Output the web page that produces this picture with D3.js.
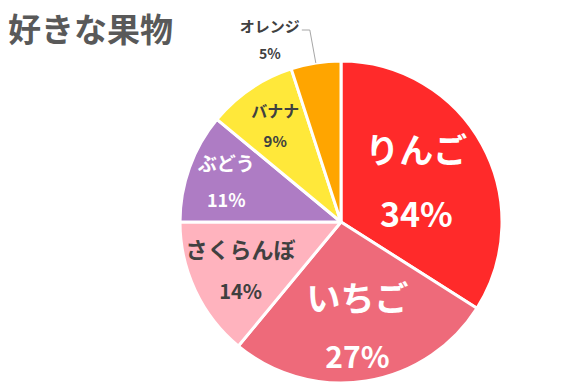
<!DOCTYPE html>
<html><head><meta charset="utf-8">
<script src="https://cdn.jsdelivr.net/npm/d3@7"></script>
<style>body{margin:0;background:#fff}svg{display:block}</style>
</head><body>
<script>
const categories = ["りんご","いちご","さくらんぼ","ぶどう","バナナ","オレンジ"];
const values = [34,27,14,11,9,5];
const colors = ["#FF2A2A","#EE6A7A","#FFB3BE","#AE7CC4","#FFE83A","#FFA500"];

// label styling (layout only)
const labelStyle = [
  {r:86,  nameSize:34, pctSize:34, fill:"#fff", gap:64},
  {r:105, nameSize:34, pctSize:30, fill:"#fff", gap:58},
  {r:111, nameSize:22, pctSize:20, fill:"#404040", gap:42},
  {r:122, nameSize:19, pctSize:18, fill:"#fff", gap:37},
  {r:117, nameSize:16, pctSize:15, fill:"#404040", gap:30},
  {outside:true, nameSize:15, pctSize:14, fill:"#404040", gap:27}
];

const W=570,H=391, cx=341, cy=222, R=161;
const svg = d3.select("body").append("svg").attr("width",W).attr("height",H)
  .style("font-family","'Noto Sans CJK JP','Noto Sans',sans-serif");

svg.append("text").attr("x",8).attr("y",28).attr("dominant-baseline","central")
  .attr("font-size",33).attr("font-weight","bold").attr("fill","#595959").text("好きな果物");

const pie = d3.pie().sort(null).value(d=>d);
const arcs = pie(values);
const arc = d3.arc().innerRadius(0).outerRadius(R);
const g = svg.append("g").attr("transform",`translate(${cx},${cy})`);

g.selectAll("path").data(arcs).join("path")
  .attr("d",arc).attr("fill",(d,i)=>colors[i])
  .attr("stroke","#fff").attr("stroke-width",3).attr("stroke-linejoin","round");

arcs.forEach((a,i)=>{
  const s = labelStyle[i];
  const mid = (a.startAngle+a.endAngle)/2;
  let x, y;
  if (s.outside) {
    const p0 = [R*Math.sin(mid), -R*Math.cos(mid)];
    const p1 = [p0[0]-6, -192];
    const p2 = [p1[0]-8, -192];
    g.append("polyline").attr("points",[p0,p1,p2].map(p=>p.join(",")).join(" "))
      .attr("fill","none").attr("stroke","#A6A6A6").attr("stroke-width",1);
    x = p2[0]-32; y = -183;
  } else {
    x = s.r*Math.sin(mid); y = -s.r*Math.cos(mid);
  }
  const lg = g.append("g").attr("transform",`translate(${x},${y})`)
    .attr("text-anchor","middle").attr("font-weight","bold").attr("fill",s.fill);
  lg.append("text").attr("y",-s.gap/2).attr("dominant-baseline","central")
    .attr("font-size",s.nameSize).text(categories[i]);
  lg.append("text").attr("y",s.gap/2).attr("dominant-baseline","central")
    .attr("font-size",s.pctSize).text(values[i]+"%");
});
</script>
</body></html>
